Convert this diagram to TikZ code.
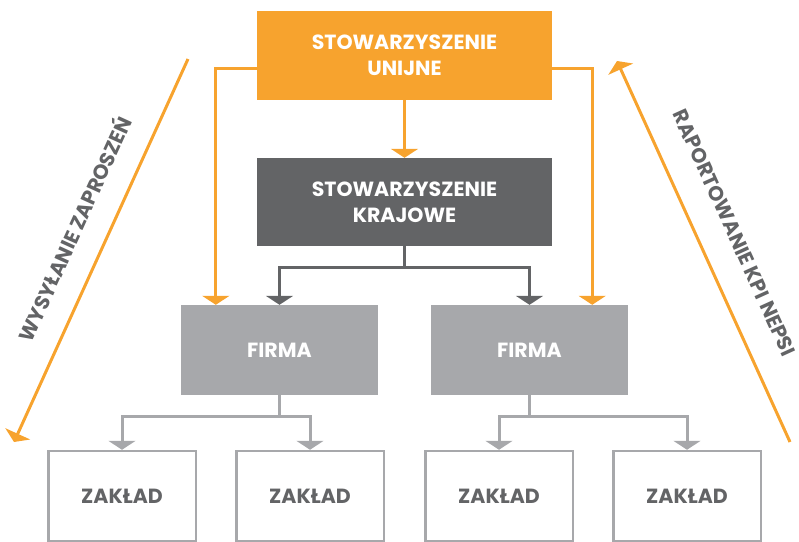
\documentclass[tikz,border=0pt]{standalone}
\usepackage{fontspec}
\setmainfont{Poppins}
\usetikzlibrary{arrows.meta,positioning}

\definecolor{uniaorange}{HTML}{F7A32E}
\definecolor{krajgray}{HTML}{636466}
\definecolor{firmagray}{HTML}{A7A8AB}

\begin{document}
\begin{tikzpicture}[x=1pt,y=1pt,node distance=148pt,on grid,
    font=\bfseries\fontsize{20.5}{26}\selectfont]
  \tikzstyle{box}=[rectangle,align=center,inner sep=0pt,text=white]
  \tikzstyle{unia box}=[box,fill=uniaorange,minimum width=295pt,minimum height=89pt]
  \tikzstyle{kraj box}=[box,fill=krajgray,minimum width=295pt,minimum height=88pt]
  \tikzstyle{firma box}=[box,fill=firmagray,minimum width=197pt,minimum height=90pt]
  \tikzstyle{zaklad box}=[box,draw=firmagray,line width=2.5pt,text=krajgray,
    minimum width=147.5pt,minimum height=90pt]
  \tikzstyle{link}=[line width=3pt,-{Triangle[width=27pt,length=9pt]}]
  \tikzstyle{side label}=[text=krajgray,inner sep=0pt]

  \useasboundingbox (0,0) rectangle (799,-541);

    \node[unia box] (unia) at (404.5,-55.5) {STOWARZYSZENIE\\UNIJNE};
    \node[kraj box] (kraj) [below=146.5pt of unia] {STOWARZYSZENIE\\KRAJOWE};
    \node[firma box] (firmaL) [below left=148pt and 125pt of kraj] {FIRMA};
    \node[firma box] (firmaR) [below right=148pt and 125pt of kraj] {FIRMA};
    \node[zaklad box] (zakladL1) [below left=146pt and 157.5pt of firmaL] {ZAKŁAD};
    \node[zaklad box] (zakladL2) [below right=146pt and 30.5pt of firmaL] {ZAKŁAD};
    \node[zaklad box] (zakladR1) [below left=146pt and 30.5pt of firmaR] {ZAKŁAD};
    \node[zaklad box] (zakladR2) [below right=146pt and 157.5pt of firmaR] {ZAKŁAD};

    % orange links from the union
    \draw[link,uniaorange] (unia) -- (kraj);
    \draw[link,uniaorange] ([yshift=-12.5pt]unia.west) -| ([xshift=35pt]firmaL.north west);
    \draw[link,uniaorange] ([yshift=-12.5pt]unia.east) -| ([xshift=-36pt]firmaR.north east);

    % national association to companies
    \draw[link,krajgray] (kraj.south) -- ++(0,-21) coordinate (krajfork) -| (firmaL);
    \draw[link,krajgray] (krajfork) -| (firmaR);

    % companies to plants
    \draw[link,firmagray] (firmaL.south) -- ++(0,-21) coordinate (firmaLfork) -| (zakladL1);
    \draw[link,firmagray] (firmaLfork) -| (zakladL2);
    \draw[link,firmagray] (firmaR.south) -- ++(0,-21) coordinate (firmaRfork) -| (zakladR1);
    \draw[link,firmagray] (firmaRfork) -| (zakladR2);

    % side arrows
    \coordinate (zaprStart) at (188,-59);
    \coordinate (zaprEnd) at (14,-442);
    \coordinate (kpiStart) at (790,-442);
    \coordinate (kpiEnd) at (617,-61);
    \draw[link,uniaorange] (zaprStart) -- (zaprEnd)
      node[side label,pos=0.48,sloped,above=23pt] {WYSYŁANIE ZAPROSZEŃ};
    \draw[link,uniaorange] (kpiStart) -- (kpiEnd)
      node[side label,pos=0.51,sloped,above=27pt] {RAPORTOWANIE KPI NEPSI};

\end{tikzpicture}
\end{document}
